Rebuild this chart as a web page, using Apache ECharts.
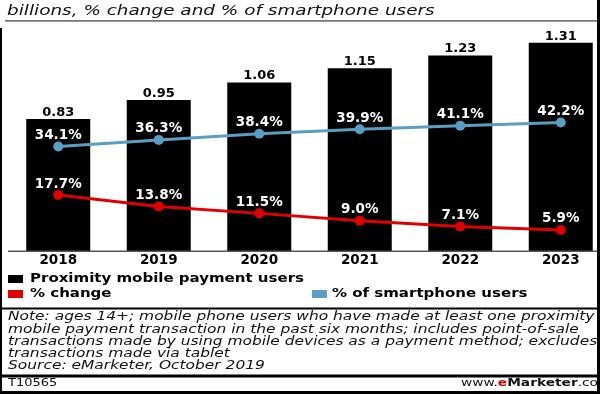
<!DOCTYPE html>
<html><head><meta charset="utf-8">
<script src="https://cdn.jsdelivr.net/npm/echarts@6/dist/echarts.min.js"></script>
<style>html,body{margin:0;padding:0;background:#fff}#c{width:600px;height:394px}</style>
</head><body><div id="c"></div>
<script>
var categories = ['2018','2019','2020','2021','2022','2023'];
var paymentUsers = [0.83, 0.95, 1.06, 1.15, 1.23, 1.31];
var pctChange = [17.7, 13.8, 11.5, 9.0, 7.1, 5.9];
var pctSmartphone = [34.1, 36.3, 38.4, 39.9, 41.1, 42.2];
var titleText = 'billions, % change and % of smartphone users';
var legendNames = ['Proximity mobile payment users', '% change', '% of smartphone users'];
var noteLines = [
  'Note: ages 14+; mobile phone users who have made at least one proximity',
  'mobile payment transaction in the past six months; includes point-of-sale',
  'transactions made by using mobile devices as a payment method; excludes',
  'transactions made via tablet',
  'Source: eMarketer, October 2019'
];

var F = '"DejaVu Sans", Verdana, sans-serif';
var BLUE = '#5a9ec4', RED = '#e00000';
var chart = echarts.init(document.getElementById('c'));
var g = [];
function txt(x, y, s, font, sx, fill){
  return {type:'text', x:x, y:y, scaleX:sx, z:10,
    style:{text:s, font:font, fill:fill||'#111', verticalAlign:'middle', textVerticalAlign:'middle'}};
}
function rect(x,y,w,h,fill,z){ return {type:'rect', z:z||5, shape:{x:x,y:y,width:w,height:h}, style:{fill:fill}}; }
g.push(txt(7, 11.5, titleText, 'italic 14.5px '+F, 1.27));
g.push(rect(5,20,592,1.8,'#777'));
g.push(rect(8,250.5,589,1.5,'#555'));
// legend
g.push(rect(8,275,15,8,'#000'));
g.push(txt(30, 279, legendNames[0], 'bold 12px '+F, 1.25, '#000'));
g.push(rect(8,290,15,8,RED));
g.push(txt(30, 294, legendNames[1], 'bold 12px '+F, 1.25, '#000'));
g.push(rect(312,290,15,8,BLUE));
g.push(txt(332, 294, legendNames[2], 'bold 12px '+F, 1.25, '#000'));
g.push(rect(0,307.5,597,2,'#000'));
var noteY = [317, 329.5, 342, 354, 366.3];
for (var i=0;i<noteLines.length;i++){
  g.push(txt(8, noteY[i], noteLines[i], 'italic 12px '+F, 1.287, '#111'));
}
g.push(rect(0,374.5,597,3,'#000'));
g.push(txt(8, 383.7, 'T10565', '10px '+F, 1.3, '#111'));
g.push({type:'text', x:461, y:383.5, scaleX:1.25, z:10,
  style:{rich:{a:{font:'11px '+F, fill:'#111'}, e:{font:'bold 11px '+F, fill:'#d00000'}, b:{font:'bold 11px '+F, fill:'#111'}},
    text:'{a|www.}{e|e}{b|Marketer}{a|.co}', verticalAlign:'middle', textVerticalAlign:'middle'}});
// frame
g.push(rect(0,28,2,366,'#000',50));
g.push(rect(597,0,3,394,'#000',50));
g.push(rect(0,391,600,3,'#000',50));

chart.setOption({
  animation:false,
  grid:{left:8, width:603, top:12.5, bottom:143, containLabel:false, outerBoundsMode:'none'},
  xAxis:{type:'category', data:categories, axisLine:{show:false}, axisTick:{show:false},
    axisLabel:{color:'#000', fontFamily:F, fontWeight:'bold', fontSize:13.5, margin:2}},
  yAxis:[
    {type:'value', min:0, max:1.5, show:false},
    {type:'value', min:-1.2, max:79.3, show:false}
  ],
  graphic:g,
  series:[
    {type:'bar', data:paymentUsers, barWidth:64, itemStyle:{color:'#000'},
      label:{show:true, position:'top', distance:0, color:'#000', formatter:function(p){return p.value.toFixed(2);}, fontFamily:F, fontWeight:'bold', fontSize:13}},
    {type:'line', yAxisIndex:1, data:pctSmartphone, symbol:'circle', symbolSize:10,
      lineStyle:{color:BLUE, width:3}, itemStyle:{color:BLUE},
      label:{show:true, position:'top', distance:-1, color:'#fff', formatter:function(p){return p.value.toFixed(1)+'%';}, fontFamily:F, fontWeight:'bold', fontSize:13.5}},
    {type:'line', yAxisIndex:1, data:pctChange, symbol:'circle', symbolSize:10,
      lineStyle:{color:RED, width:3}, itemStyle:{color:RED},
      label:{show:true, position:'top', distance:-1, color:'#fff', formatter:function(p){return p.value.toFixed(1)+'%';}, fontFamily:F, fontWeight:'bold', fontSize:13.5}}
  ]
});
</script></body></html>
